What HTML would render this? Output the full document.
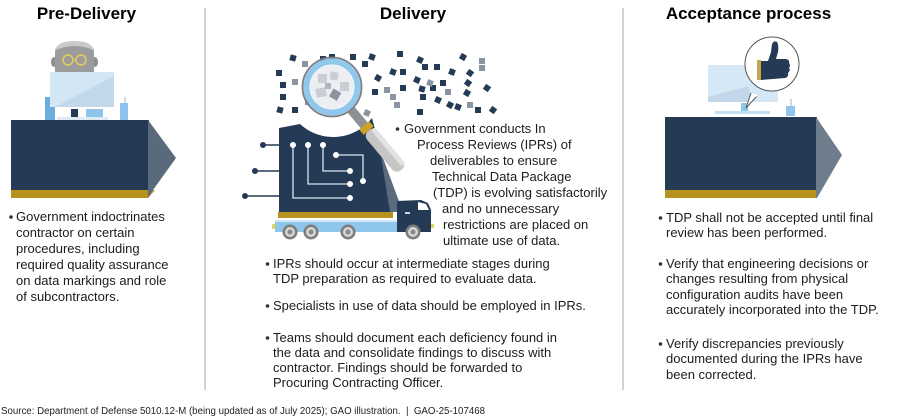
<!DOCTYPE html>
<html><head><meta charset="utf-8"><style>
html,body{margin:0;padding:0;background:#fff;}
svg{display:block;}
text{font-family:"Liberation Sans",Arial,sans-serif;}
.t{font-size:13px;fill:#1c1c1c;}
.h{font-size:17px;font-weight:bold;fill:#000;}
</style></head><body>
<svg width="900" height="420" viewBox="0 0 900 420" xmlns="http://www.w3.org/2000/svg">
<!-- dividers -->
<line x1="205" y1="8" x2="205" y2="390" stroke="#c4c4c4" stroke-width="1.5"/>
<line x1="623" y1="8" x2="623" y2="390" stroke="#c4c4c4" stroke-width="1.5"/>

<!-- titles -->
<text class="h" x="86.5" y="19" text-anchor="middle">Pre-Delivery</text>
<text class="h" x="413" y="19" text-anchor="middle">Delivery</text>
<text class="h" x="748.5" y="19" text-anchor="middle">Acceptance process</text>

<!-- ===== Pre-Delivery illustration ===== -->
<rect x="45" y="97" width="10" height="23" fill="#6aaee0"/>
<ellipse cx="54" cy="62" rx="3" ry="5" fill="#8f8f8f"/>
<ellipse cx="95" cy="62" rx="3" ry="5" fill="#8f8f8f"/>
<path d="M55,52 Q55,42 74.5,42 Q94,42 94,52 L94,74 L55,74 Z" fill="#9c9c9c"/>
<path d="M56,50 Q57,41 74.5,41 Q92,41 93,50 Q84,46 74.5,46 Q65,46 56,50 Z" fill="#cacaca"/>
<circle cx="68" cy="60" r="5" fill="none" stroke="#e6cf5c" stroke-width="1.4"/>
<circle cx="81" cy="60" r="5" fill="none" stroke="#e6cf5c" stroke-width="1.4"/>
<line x1="73" y1="60" x2="76" y2="60" stroke="#e6cf5c" stroke-width="1.2"/>
<rect x="50" y="72" width="64" height="35" fill="#d3e6f4"/>
<polygon points="114,76 114,107 55,107" fill="#c2d7e9"/>
<rect x="71" y="109" width="7" height="9" fill="#253a54"/>
<rect x="86" y="109" width="17" height="9" fill="#8ec3ea"/>
<rect x="57" y="117" width="51" height="3" fill="#dfeaf4"/>
<line x1="125" y1="97" x2="125" y2="104" stroke="#b0b0b0" stroke-width="1"/>
<rect x="120" y="103" width="8" height="17" fill="#8ec3ef"/>
<!-- block -->
<rect x="11" y="120" width="138" height="71" fill="#253a54"/>
<polygon points="11,190 155,190 148,198 11,198" fill="#b8921f"/>
<polygon points="148,120 176,158 153,190 148,198 148,120" fill="#586a7c"/>

<!-- ===== Delivery illustration ===== -->
<g>
<g fill="#253a54">
<rect x="290" y="55" width="6" height="6" transform="rotate(15 293 58)"/>
<rect x="320" y="56" width="6" height="6"/>
<rect x="329" y="54" width="6" height="6"/>
<rect x="350" y="54" width="6" height="6"/>
<rect x="362" y="61" width="6" height="6"/>
<rect x="369" y="54" width="6" height="6" transform="rotate(20 372 57)"/>
<rect x="397" y="51" width="6" height="6"/>
<rect x="417" y="57" width="6" height="6" transform="rotate(25 420 60)"/>
<rect x="422" y="64" width="6" height="6"/>
<rect x="434" y="64" width="6" height="6"/>
<rect x="460" y="54" width="6" height="6" transform="rotate(30 463 57)"/>
<rect x="449" y="69" width="6" height="6" transform="rotate(20 452 72)"/>
<rect x="467" y="70" width="6" height="6" transform="rotate(35 470 73)"/>
<rect x="390" y="69" width="6" height="6" transform="rotate(20 393 72)"/>
<rect x="400" y="69" width="6" height="6"/>
<rect x="375" y="75" width="6" height="6" transform="rotate(30 378 78)"/>
<rect x="414" y="77" width="6" height="6" transform="rotate(25 417 80)"/>
<rect x="440" y="80" width="6" height="6"/>
<rect x="465" y="80" width="6" height="6" transform="rotate(35 468 83)"/>
<rect x="484" y="85" width="6" height="6" transform="rotate(35 487 88)"/>
<rect x="372" y="89" width="6" height="6"/>
<rect x="400" y="85" width="6" height="6"/>
<rect x="419" y="86" width="6" height="6" transform="rotate(15 422 89)"/>
<rect x="430" y="85" width="6" height="6"/>
<rect x="464" y="90" width="6" height="6" transform="rotate(30 467 93)"/>
<rect x="420" y="94" width="6" height="6"/>
<rect x="435" y="97" width="6" height="6" transform="rotate(25 438 100)"/>
<rect x="447" y="102" width="6" height="6" transform="rotate(30 450 105)"/>
<rect x="455" y="104" width="6" height="6" transform="rotate(20 458 107)"/>
<rect x="475" y="107" width="6" height="6"/>
<rect x="490" y="107" width="6" height="6" transform="rotate(35 493 110)"/>
<rect x="417" y="109" width="6" height="6"/>
<rect x="280" y="82" width="6" height="6"/>
<rect x="280" y="94" width="6" height="6"/>
<rect x="277" y="107" width="6" height="6" transform="rotate(15 280 110)"/>
<rect x="292" y="107" width="6" height="6"/>
<rect x="276" y="70" width="6" height="6"/>
</g>
<g fill="#8b95a2">
<rect x="302" y="61" width="6" height="6"/>
<rect x="479" y="58" width="6" height="6"/>
<rect x="479" y="65" width="6" height="6"/>
<rect x="427" y="80" width="6" height="6" transform="rotate(20 430 83)"/>
<rect x="384" y="87" width="6" height="6"/>
<rect x="445" y="89" width="6" height="6"/>
<rect x="390" y="94" width="6" height="6"/>
<rect x="467" y="102" width="6" height="6"/>
<rect x="394" y="102" width="6" height="6"/>
<rect x="292" y="79" width="6" height="6"/>
<rect x="364" y="110" width="6" height="6" transform="rotate(25 367 113)"/>
<rect x="305" y="99" width="6" height="6"/>
</g>
<!-- cargo -->
<path d="M279,128 L300,124 A49 49 0 0 0 372,118 L397,212 L279,212 Z" fill="#253a54"/>
<polygon points="380,150 403,212 390,212" fill="#5a6b7d"/>
<!-- circuit -->
<g stroke="#253a54" stroke-width="1.5">
<line x1="263" y1="145" x2="280" y2="145"/>
<line x1="255" y1="171" x2="280" y2="171"/>
<line x1="245" y1="196" x2="280" y2="196"/>
</g>
<g fill="#253a54">
<circle cx="263" cy="145" r="3"/>
<circle cx="255" cy="171" r="3"/>
<circle cx="245" cy="196" r="3"/>
</g>
<g stroke="#d9e6f2" stroke-width="1.3" fill="none">
<polyline points="293,145 293,198 350,198"/>
<polyline points="308,145 308,184 350,184"/>
<polyline points="323,145 323,171 350,171"/>
<polyline points="336,155 363,155 363,181"/>
</g>
<g fill="#fff">
<circle cx="293" cy="145" r="3"/>
<circle cx="308" cy="145" r="3"/>
<circle cx="323" cy="145" r="3"/>
<circle cx="336" cy="155" r="3"/>
<circle cx="350" cy="198" r="3"/>
<circle cx="350" cy="184" r="3"/>
<circle cx="350" cy="171" r="3"/>
<circle cx="363" cy="181" r="3"/>
</g>
<!-- gold strip + bed -->
<rect x="278" y="212" width="115" height="6" fill="#b8921f"/>
<rect x="275" y="220" width="122" height="2" fill="#d3e7f5"/>
<rect x="275" y="222" width="122" height="10" fill="#8ec6ec"/>
<rect x="272" y="224" width="3" height="5" fill="#e2d65a"/>
<!-- cab -->
<path d="M397,201 L421,200 L428,203 L431,210 L431,232 L397,232 Z" fill="#253a54"/>
<polygon points="418,202 426,204 429,210 418,210" fill="#ffffff"/>
<rect x="405" y="212" width="5" height="2" fill="#cfd8e2"/>
<rect x="431" y="224" width="3" height="4" fill="#e2d65a"/>
<!-- wheels -->
<g>
<circle cx="290" cy="232" r="7.5" fill="#7d7d7d"/><circle cx="290" cy="232" r="5" fill="#d6d6d6"/><circle cx="290" cy="232" r="2.5" fill="#8a8a8a"/>
<circle cx="311" cy="232" r="7.5" fill="#7d7d7d"/><circle cx="311" cy="232" r="5" fill="#d6d6d6"/><circle cx="311" cy="232" r="2.5" fill="#8a8a8a"/>
<circle cx="348" cy="232" r="7.5" fill="#7d7d7d"/><circle cx="348" cy="232" r="5" fill="#d6d6d6"/><circle cx="348" cy="232" r="2.5" fill="#8a8a8a"/>
<circle cx="413" cy="232" r="7.5" fill="#7d7d7d"/><circle cx="413" cy="232" r="5" fill="#d6d6d6"/><circle cx="413" cy="232" r="2.5" fill="#8a8a8a"/>
</g>
<!-- magnifier -->
<g transform="translate(332,87) rotate(50)">
<rect x="29" y="-4.5" width="22" height="9" fill="#8f8f96"/>
<rect x="50" y="-6.5" width="7" height="13" fill="#c9a227"/>
<rect x="57" y="-7" width="51" height="14" rx="6" fill="#c6c6c6"/>
<rect x="58" y="-7" width="48" height="5" rx="2.5" fill="#e2e2e2"/>
</g>
<circle cx="332" cy="87" r="22" fill="#eceef1"/>
<g fill="#c9ced5">
<rect x="318" y="74" width="9" height="9"/>
<rect x="330" y="72" width="8" height="8" transform="rotate(10 334 76)"/>
<rect x="340" y="82" width="9" height="9"/>
<rect x="316" y="88" width="10" height="9" transform="rotate(-10 321 92)"/>
</g>
<rect x="331" y="90" width="9" height="9" fill="#8b95a2" transform="rotate(30 335 94)"/>
<rect x="325" y="83" width="6" height="6" fill="#b0b6bf"/>
<circle cx="332" cy="87" r="25.5" fill="none" stroke="#8fc8ec" stroke-width="6"/>
<circle cx="332" cy="87" r="29.5" fill="none" stroke="#7e7e86" stroke-width="1.8"/>
</g>

<!-- ===== Acceptance illustration ===== -->
<rect x="708" y="65" width="70" height="37" fill="#d6e8f6"/>
<polygon points="708,102 708,97 748,86 752,102" fill="#c2d7e9"/>
<rect x="741" y="103" width="7" height="8" fill="#8ec6ec"/>
<rect x="715" y="111" width="55" height="3" fill="#c6def1"/>
<line x1="791" y1="99" x2="791" y2="107" stroke="#b0b0b0" stroke-width="1"/>
<rect x="786" y="106" width="9" height="10" fill="#8ec6ec"/>
<!-- bubble -->
<path d="M751,93 L746,108 L757,96" fill="#fff" stroke="#555" stroke-width="1"/>
<circle cx="772" cy="64" r="27" fill="#fff" stroke="#555" stroke-width="1"/>
<path d="M752,94 L757,96" stroke="#fff" stroke-width="2"/>
<!-- thumb -->
<rect x="757" y="60" width="4" height="20" fill="#c8a44c"/>
<path d="M761,61 L768,61 L771,52 L772,44 Q774,40 777,42 Q779,45 778,52 L776,59 L786,59 Q790,60 789,63 Q791,65 789,68 Q791,70 788,73 Q789,77 785,78 L761,80 Z" fill="#253a54"/>
<!-- block -->
<rect x="665" y="117" width="152" height="74" fill="#253a54"/>
<rect x="665" y="190" width="152" height="8" fill="#b8921f"/>
<polygon points="816,117 842,155 817,198 816,198" fill="#6e7d8c"/>

<!-- ===== Text ===== -->
<g fill="#333">
<circle cx="11" cy="217" r="1.8"/>
<circle cx="397.5" cy="129" r="1.8"/>
<circle cx="267.5" cy="264" r="1.8"/>
<circle cx="267.5" cy="306" r="1.8"/>
<circle cx="267.5" cy="338" r="1.8"/>
<circle cx="660.5" cy="218" r="1.8"/>
<circle cx="660.5" cy="264" r="1.8"/>
<circle cx="660.5" cy="344" r="1.8"/>
</g>
<g class="t">
<text class="t" x="16" y="221">Government indoctrinates</text>
<text class="t" x="16" y="237">contractor on certain</text>
<text class="t" x="16" y="253">procedures, including</text>
<text class="t" x="16" y="269">required quality assurance</text>
<text class="t" x="16" y="285">on data markings and role</text>
<text class="t" x="16" y="301">of subcontractors.</text>

<text class="t" x="404" y="133">Government conducts In</text>
<text class="t" x="417" y="149">Process Reviews (IPRs) of</text>
<text class="t" x="430" y="165">deliverables to ensure</text>
<text class="t" x="432" y="181">Technical Data Package</text>
<text class="t" x="433" y="197">(TDP) is evolving satisfactorily</text>
<text class="t" x="442" y="213">and no unnecessary</text>
<text class="t" x="443" y="229">restrictions are placed on</text>
<text class="t" x="443" y="245">ultimate use of data.</text>

<text class="t" x="273" y="268">IPRs should occur at intermediate stages during</text>
<text class="t" x="273" y="283">TDP preparation as required to evaluate data.</text>
<text class="t" x="273" y="310">Specialists in use of data should be employed in IPRs.</text>
<text class="t" x="273" y="342">Teams should document each deficiency found in</text>
<text class="t" x="273" y="357">the data and consolidate findings to discuss with</text>
<text class="t" x="273" y="372">contractor. Findings should be forwarded to</text>
<text class="t" x="273" y="387">Procuring Contracting Officer.</text>

<text class="t" x="666" y="222">TDP shall not be accepted until final</text>
<text class="t" x="666" y="237">review has been performed.</text>
<text class="t" x="666" y="268">Verify that engineering decisions or</text>
<text class="t" x="666" y="283">changes resulting from physical</text>
<text class="t" x="666" y="299">configuration audits have been</text>
<text class="t" x="666" y="314">accurately incorporated into the TDP.</text>
<text class="t" x="666" y="348">Verify discrepancies previously</text>
<text class="t" x="666" y="363">documented during the IPRs have</text>
<text class="t" x="666" y="379">been corrected.</text>
</g>
<text x="1" y="414" font-size="10" fill="#222" textLength="484" lengthAdjust="spacingAndGlyphs">Source: Department of Defense 5010.12-M (being updated as of July 2025); GAO illustration.&#160;&#160;|&#160;&#160;GAO-25-107468</text>
</svg>
</body></html>
